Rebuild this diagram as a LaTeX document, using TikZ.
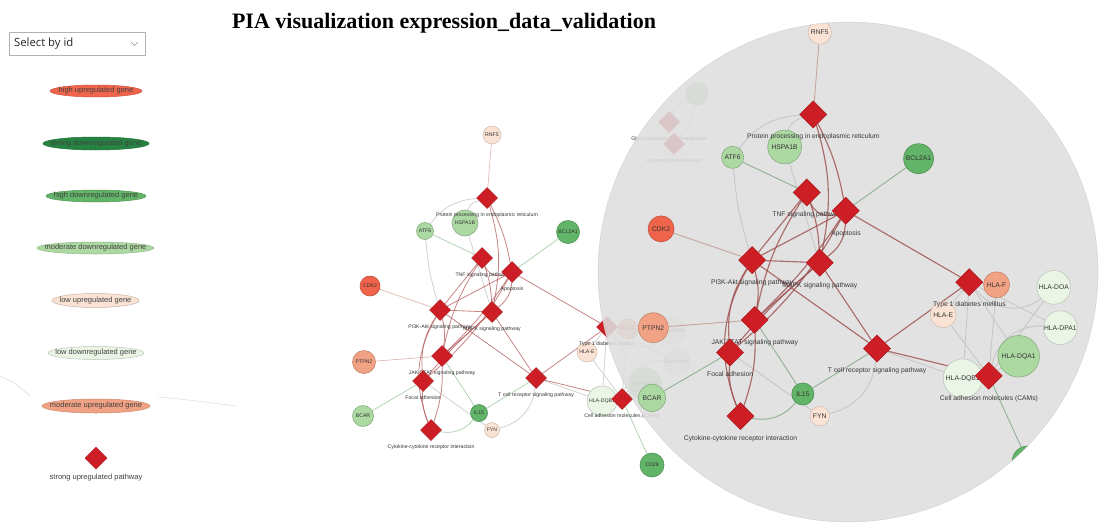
\documentclass[tikz,border=0pt]{standalone}
\usepackage{fontspec}
\setmainfont{Liberation Serif}
\newfontfamily\arialf{Liberation Sans}
\newfontfamily\uif{Open Sans}
\usetikzlibrary{shapes.geometric}

% expression categories
\definecolor{hiupC}{RGB}{240,100,75}
\definecolor{strdownC}{RGB}{38,132,66}
\definecolor{hidownC}{RGB}{98,180,104}
\definecolor{moddownC}{RGB}{172,216,162}
\definecolor{lowupC}{RGB}{250,226,212}
\definecolor{lowdownC}{RGB}{234,245,230}
\definecolor{modupC}{RGB}{242,162,132}
\definecolor{pathC}{RGB}{204,30,36}
% edges and lens
\definecolor{lensC}{RGB}{222,222,222}
\definecolor{eRedC}{RGB}{182,92,92}
\definecolor{eGreyC}{RGB}{205,205,205}
\definecolor{eGreenC}{RGB}{172,208,172}
\definecolor{ePinkC}{RGB}{226,186,180}

\newcommand\lblfont{\arialf\fontsize{5.2}{6}\selectfont}
\newcommand\legfont{\arialf\fontsize{7.5}{9}\selectfont}

% node names carry a prefix so the network can be drawn twice
\def\pfx{}
% first pass: named outlines used as edge end points
\newcommand\slotG[5]{\node[circle, inner sep=0pt, minimum size=#3] (\pfx#1) at (#2) {};}
\newcommand\slotP[3]{\node[diamond, aspect=1, inner sep=0pt, minimum size=21pt] (\pfx#1) at (#2) {};}
% second pass: the visible genes and pathways
\newcommand\showG[5]{\node[#4, minimum size=#3] (\pfx#1-n) at (\pfx#1.center) {#5};}
\newcommand\showP[3]{\node[pw, label={[plab]below:#3}] (\pfx#1-n) at (\pfx#1.center) {};}
% an edge: style, from, to, path operation
\newcommand\ed[4]{\draw[#1] (\pfx#2) #4 (\pfx#3);}

\newcommand\pianodes{%
  \GN{rnf}{492,135}{18pt}{glowup}{RNF5}
  \GN{hsp}{465,223}{26pt}{gmoddown}{HSPA1B}
  \GN{atf}{425,231}{17pt}{gmoddown}{ATF6}
  \GN{bcl}{568,232}{23pt}{ghidown}{BCL2A1}
  \GN{cdk}{370,286}{20pt}{ghiup}{CDK2}
  \GN{ptpn}{364,362}{23pt}{gmodup}{PTPN2}
  \GN{bcar}{363,416}{21pt}{gmoddown}{BCAR}
  \GN{il15}{479,413}{17pt}{ghidown}{IL15}
  \GN{fyn}{492,430}{15pt}{glowup}{FYN}
  \GN{hlae}{587,352}{20pt}{glowup}{HLA-E}
  \GN{hlaf}{628,329}{20pt}{gmodup}{HLA-F}
  \GN{hladoa}{672,331}{26pt}{glowdown}{HLA-DOA}
  \GN{hladpa}{677,362}{26pt}{glowdown}{HLA-DPA1}
  \GN{hladqa}{645,384}{32pt}{gmoddown}{HLA-DQA1}
  \GN{hladqb}{602,401}{30pt}{glowdown}{HLA-DQB1}
  \GN{cd28}{652,465}{24pt}{ghidown}{CD28}
  \GN{gx}{697,94}{22pt}{gmoddown}{}
  \PW{prot}{487,198}{Protein processing in endoplasmic reticulum}
  \PW{tnf}{482,258}{TNF signaling pathway}
  \PW{apo}{512,272}{Apoptosis}
  \PW{pik}{440,310}{PI3K-Akt signaling pathway}
  \PW{mapk}{492,312}{MAPK signaling pathway}
  \PW{jak}{442,356}{JAK-STAT signaling pathway}
  \PW{focal}{423,381}{Focal adhesion}
  \PW{cyto}{431,430}{Cytokine-cytokine receptor interaction}
  \PW{tcr}{536,378}{T cell receptor signaling pathway}
  \PW{tid}{607,327}{Type 1 diabetes mellitus}
  \PW{cam}{622,399}{Cell adhesion molecules (CAMs)}
  \PW{gpa}{669,122}{Glycerophospholipid metabolism}
  \PW{gpb}{674,144}{Glycerolipid metabolism}
}

\newcommand\piaedges{%
  % gene to pathway
  \ed{ePk}{rnf}{prot}{--}
  \ed{eGy}{prot}{atf}{to[bend right=25]}
  \ed{eGy}{prot}{hsp}{to[bend right=30]}
  \ed{eGn}{atf}{tnf}{--}
  \ed{eGy}{atf}{pik}{to[bend right=6]}
  \ed{eGy}{hsp}{mapk}{--}
  \ed{eGn}{bcl}{apo}{--}
  \ed{ePk}{cdk}{pik}{--}
  \ed{ePk}{ptpn}{jak}{--}
  \ed{eGn}{bcar}{focal}{--}
  \ed{eGn}{il15}{jak}{--}
  \ed{eGn}{il15}{cyto}{to[bend left=30]}
  \ed{eGn}{il15}{tcr}{--}
  \ed{eGy}{fyn}{tcr}{to[bend right=35]}
  \ed{eGy}{fyn}{focal}{--}
  \ed{eGy}{hlae}{tid}{--}
  \ed{eGy}{hlaf}{tid}{--}
  \ed{eGy}{tid}{hladoa}{to[bend right=45]}
  \ed{eGy}{tid}{hladpa}{--}
  \ed{eGy}{tid}{hladqa}{--}
  \ed{eGy}{tid}{hladqb}{--}
  \ed{eGy}{cam}{hlae}{--}
  \ed{eGy}{cam}{hlaf}{--}
  \ed{eGy}{cam}{hladoa}{--}
  \ed{eGy}{cam}{hladpa}{to[bend left=40]}
  \ed{eGy}{cam}{hladqa}{--}
  \ed{eGy}{cam}{hladqb}{--}
  \ed{eGy}{tcr}{hladqb}{--}
  \ed{eGn}{cam}{cd28}{--}
  \ed{eGy}{gx}{gpa}{to[bend right=20]}
  \ed{eGy}{gx}{gpb}{to[bend left=15]}
  % pathway to pathway
  \ed{pe}{prot}{apo}{to[bend left=8]}
  \ed{pe}{prot}{mapk}{to[bend left=14]}
  \ed{pe}{tnf}{apo}{to[bend right=45]}
  \ed{pe}{tnf}{pik}{--}
  \ed{pe}{tnf}{mapk}{to[bend left=8]}
  \ed{pe}{tnf}{jak}{to[bend right=10]}
  \ed{pe}{apo}{pik}{--}
  \ed{pe}{apo}{mapk}{to[bend left=25]}
  \ed{pe}{apo}{jak}{to[bend left=6]}
  \ed{pe}{apo}{focal}{to[bend left=10]}
  \ed{pe}{apo}{tid}{--}
  \ed{pe}{pik}{mapk}{--}
  \ed{pe}{pik}{jak}{to[bend left=12]}
  \ed{pe}{pik}{focal}{to[bend right=18]}
  \ed{pe}{pik}{cyto}{to[bend right=25]}
  \ed{pe}{pik}{tcr}{--}
  \ed{pe}{mapk}{jak}{--}
  \ed{pe}{mapk}{focal}{to[bend right=4]}
  \ed{pe}{mapk}{tcr}{--}
  \ed{pe}{jak}{cyto}{to[bend left=10]}
  \ed{pe}{focal}{cyto}{to[bend right=12]}
  \ed{pe}{tcr}{tid}{--}
  \ed{pe}{tcr}{cam}{--}
}

\newcommand\pianet{%
  \let\GN\slotG \let\PW\slotP \pianodes
  \piaedges
  \let\GN\showG \let\PW\showP \pianodes
}

\tikzset{
  gene/.style={circle, inner sep=0pt, line width=0.6pt, font=\lblfont, text=black!80},
  ghiup/.style={gene, fill=hiupC, draw=hiupC!80!black},
  ghidown/.style={gene, fill=hidownC, draw=hidownC!80!black},
  gmoddown/.style={gene, fill=moddownC, draw=moddownC!80!black},
  glowup/.style={gene, fill=lowupC, draw=lowupC!85!black},
  glowdown/.style={gene, fill=lowdownC, draw=lowdownC!82!black},
  gmodup/.style={gene, fill=modupC, draw=modupC!82!black},
  pw/.style={diamond, aspect=1, inner sep=0pt, minimum size=21pt, fill=pathC, draw=pathC!85!black, line width=0.5pt},
  plab/.style={font=\lblfont, text=black!78, inner sep=0.5pt, label distance=3.5pt},
  pe/.style={draw=eRedC, line width=0.8pt, opacity=0.75},
  eGy/.style={draw=eGreyC, line width=0.7pt},
  eGn/.style={draw=eGreenC, line width=0.7pt},
  ePk/.style={draw=ePinkC, line width=0.7pt},
  legell/.style={ellipse, inner sep=0pt, line width=0.5pt},
  legtxt/.style={font=\legfont, text=black!75, inner sep=0pt},
}

\begin{document}
\begin{tikzpicture}[x=1pt, y=-1pt]
  \useasboundingbox[fill=white] (0,0) rectangle (1099,522);

  % title and id selector
  \node[anchor=base, inner sep=0pt] (title) at (444,28)
    {\resizebox{424pt}{!}{\fontsize{19}{22}\selectfont\bfseries PIA visualization expression\_data\_validation}};
  \node[draw=gray!60, line width=0.7pt, minimum width=136pt, minimum height=23pt, inner sep=0pt] (sel) at (77,43.5) {};
  \node[anchor=west, inner sep=0pt, font=\uif\fontsize{11.3}{13}\selectfont, text=black!85] (seltxt) at (14,44) {Select by id};
  \draw[gray!80, line width=0.6pt] (131,42) -- (134.5,45.5) -- (138,42);

  % legend
  \node[legell, fill=hiupC, draw=hiupC!85!black, minimum width=92pt, minimum height=12pt,
        label={[legtxt]center:high upregulated gene}] (lg1) at (96,91) {};
  \node[legell, fill=strdownC, draw=strdownC!85!black, minimum width=106pt, minimum height=13pt,
        label={[legtxt]center:strong downregulated gene}] (lg2) at (96,143.5) {};
  \node[legell, fill=hidownC, draw=hidownC!85!black, minimum width=100pt, minimum height=12pt,
        label={[legtxt]center:high downregulated gene}] (lg3) at (96,196) {};
  \node[legell, fill=moddownC, draw=moddownC!85!black, minimum width=117pt, minimum height=12pt,
        label={[legtxt]center:moderate downregulated gene}] (lg4) at (95.5,248) {};
  \node[legell, fill=lowupC, draw=lowupC!80!black, minimum width=87pt, minimum height=14pt,
        label={[legtxt]center:low upregulated gene}] (lg5) at (95.5,300.5) {};
  \node[legell, fill=lowdownC, draw=lowdownC!80!black, minimum width=96pt, minimum height=13pt,
        label={[legtxt]center:low downregulated gene}] (lg6) at (96,353) {};
  \node[legell, fill=modupC, draw=modupC!85!black, minimum width=108pt, minimum height=14pt,
        label={[legtxt]center:moderate upregulated gene}] (lg7) at (96,406) {};
  \node[pw, minimum size=22pt] (lg8) at (96,458) {};
  \node[legtxt] (lg8txt) at (96,478) {strong upregulated pathway};

  % faint traces at the left
  \draw[gray!25, line width=0.6pt] (0,376) .. controls (14,382) .. (30,396);
  \draw[gray!22, line width=0.6pt] (158,397) .. controls (190,400) .. (236,406);

  % network at normal size
  \pianet

  % magnifying lens
  \fill[lensC, opacity=0.88] (848,272) circle[radius=250pt];
  \begin{scope}
    \clip (848,272) circle[radius=250pt];
    \def\pfx{L-}
    \begin{scope}[shift={(180,-143)}, scale=1.3, transform shape,
        pe/.style={draw=eRedC!88!black, line width=1.15pt, opacity=0.82},
        eGy/.style={draw=black!22, line width=0.9pt},
        eGn/.style={draw=eGreenC!85!black, line width=0.9pt},
        ePk/.style={draw=ePinkC!88!black, line width=0.9pt}]
      \pianet
    \end{scope}
  \end{scope}
  \draw[gray!50, line width=0.5pt, opacity=0.5] (848,272) circle[radius=250pt];
\end{tikzpicture}
\end{document}
